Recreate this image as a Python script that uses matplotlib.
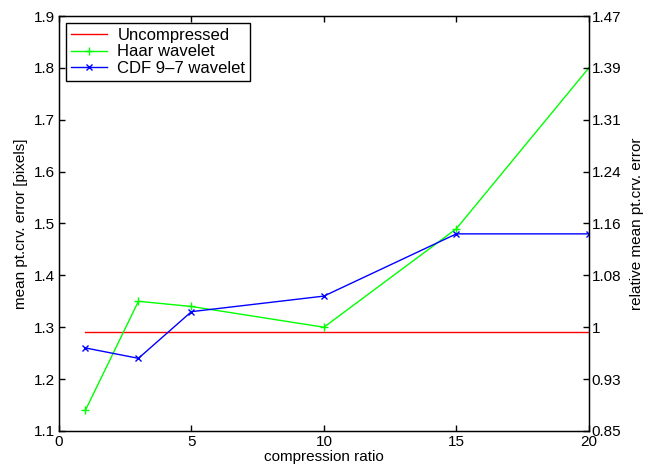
import matplotlib
matplotlib.use('Agg')
import matplotlib.pyplot as plt

# data
ratio = [1, 3, 5, 10, 15, 20]
uncompressed = [1.29, 1.29, 1.29, 1.29, 1.29, 1.29]
haar = [1.14, 1.35, 1.34, 1.30, 1.49, 1.80]
cdf97 = [1.26, 1.24, 1.33, 1.36, 1.48, 1.48]

left_ticks = [1.1, 1.2, 1.3, 1.4, 1.5, 1.6, 1.7, 1.8, 1.9]
right_labels = ['0.85', '0.93', '1', '1.08', '1.16', '1.24', '1.31', '1.39', '1.47']

plt.rcParams['font.family'] = ['Liberation Sans', 'DejaVu Sans']
plt.rcParams['font.size'] = 10

fig = plt.figure(figsize=(6.55, 4.72), dpi=100)
ax = fig.add_axes([0.090, 0.087, 0.809, 0.879])

ax.plot(ratio, uncompressed, color='red', linewidth=1, label='Uncompressed')
ax.plot(ratio, haar, color='#00ff00', linewidth=1, marker='+', markersize=6,
        label='Haar wavelet')
ax.plot(ratio, cdf97, color='blue', linewidth=1, marker='x', markersize=4,
        label='CDF 9\u20137 wavelet')

ax.set_xlim(0, 20)
ax.set_ylim(1.1, 1.9)
ax.set_xticks([0, 5, 10, 15, 20])
ax.set_yticks(left_ticks)
ax.set_yticklabels([f'{v:g}' for v in left_ticks])
ax.tick_params(direction='in', top=True, length=4, width=1, labelsize=11, pad=3)
for s in ax.spines.values():
    s.set_linewidth(1)

ax.set_xlabel('compression ratio', fontsize=11, labelpad=1)
ax.set_ylabel('mean pt.crv. error [pixels]', fontsize=11, labelpad=4)

ax2 = ax.twinx()
ax2.set_ylim(1.1, 1.9)
ax2.set_yticks(left_ticks)
ax2.set_yticklabels(right_labels)
ax2.tick_params(direction='in', length=4, width=1, labelsize=11, pad=2)
ax2.set_ylabel('relative mean pt.crv. error', fontsize=11, labelpad=6)

leg = ax.legend(loc='upper left', fontsize=12, frameon=True, fancybox=False,
                edgecolor='black', framealpha=1, handlelength=2.2,
                borderpad=0.3, labelspacing=0.1, handletextpad=0.6,
                borderaxespad=0.4)
leg.get_frame().set_linewidth(1)

fig.savefig('out.png', dpi=100)
